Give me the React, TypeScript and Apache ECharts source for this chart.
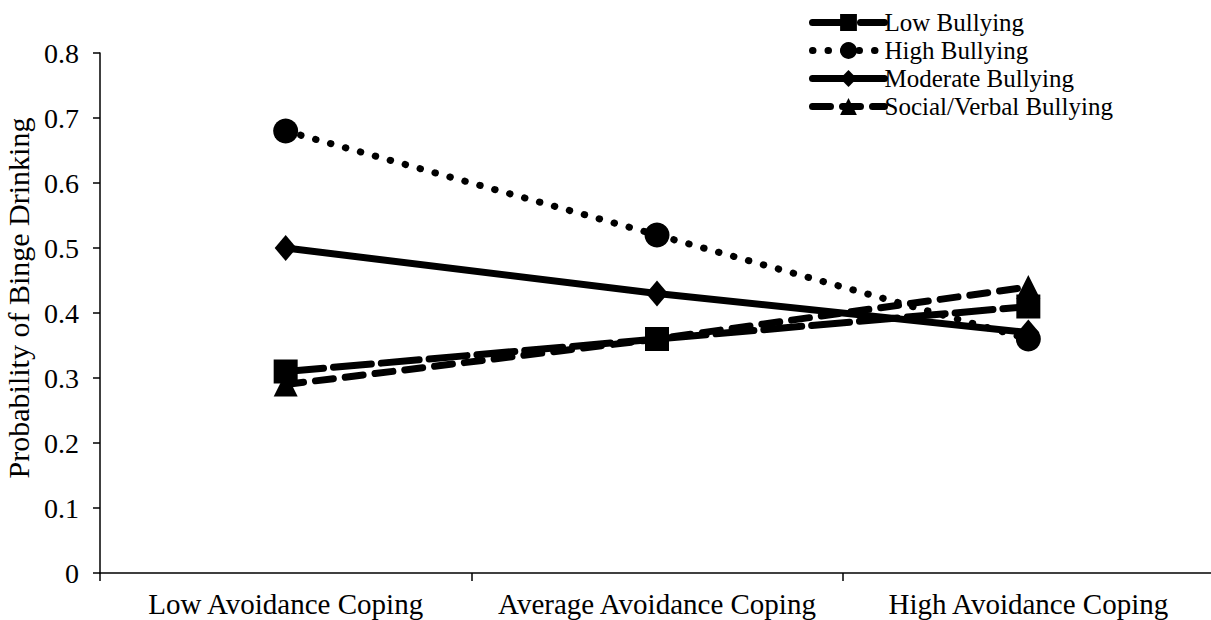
import React, { useEffect, useRef } from "react";
import * as echarts from "echarts";

const categories = ["Low Avoidance Coping", "Average Avoidance Coping", "High Avoidance Coping"];
const lowBullying = [0.31, 0.36, 0.41];
const highBullying = [0.68, 0.52, 0.36];
const moderateBullying = [0.5, 0.43, 0.37];
const socialVerbalBullying = [0.29, 0.36, 0.44];
const seriesNames = ["Low Bullying", "High Bullying", "Moderate Bullying", "Social/Verbal Bullying"];

const FONT = "Liberation Serif";

const lineTypes: any[] = [[38, 10], [0.5, 15], "solid", [18, 12]];
const symbols = ["rect", "circle", "diamond", "triangle"];

export default function App() {
  const ref = useRef<HTMLDivElement>(null);
  useEffect(() => {
    if (!ref.current) return;
    const chart = echarts.init(ref.current, null, { renderer: "svg" });
    const mk = (i: number, data: number[], size: any) => ({
      name: seriesNames[i],
      type: "line",
      data,
      symbol: symbols[i],
      symbolSize: size,
      showSymbol: true,
      itemStyle: { color: "#000" },
      lineStyle: { color: "#000", width: 7, type: lineTypes[i], cap: "round" },
      z: 2,
    });
    chart.setOption({
      animation: false,
      backgroundColor: "#fff",
      textStyle: { fontFamily: FONT, color: "#000" },
      grid: {
        left: 100,
        top: 53,
        width: 1114,
        height: 520,
        containLabel: false,
        outerBoundsMode: "none",
      },
      legend: {
        orient: "vertical",
        left: 804,
        top: 5,
        itemWidth: 72,
        itemHeight: 21,
        itemGap: 3,
        data: seriesNames,
        lineStyle: { width: 7, cap: "round" },
        textStyle: { fontFamily: FONT, fontSize: 25, color: "#000", padding: [0, 0, 0, -5] },
      },
      xAxis: {
        type: "category",
        data: categories,
        boundaryGap: true,
        axisLine: { lineStyle: { color: "#000", width: 1.5 } },
        axisTick: { show: true, length: 8, lineStyle: { color: "#000", width: 1.5 } },
        axisLabel: { fontFamily: FONT, fontSize: 29, color: "#000", margin: 16, interval: 0 },
        splitLine: { show: false },
      },
      yAxis: {
        type: "value",
        min: 0,
        max: 0.8,
        interval: 0.1,
        name: "Probability of Binge Drinking",
        nameLocation: "middle",
        nameGap: 64,
        nameTextStyle: { fontFamily: FONT, fontSize: 30, color: "#000", padding: [0, 0, 0, 30] },
        axisLine: { show: true, lineStyle: { color: "#000", width: 1.5 } },
        axisTick: { show: true, length: 7, lineStyle: { color: "#000", width: 1.5 } },
        axisLabel: {
          fontFamily: FONT,
          fontSize: 28,
          color: "#000",
          margin: 21,
          formatter: (v: number) => (v === 0 ? "0" : v.toFixed(1)),
        },
        splitLine: { show: false },
      },
      series: [
        mk(0, lowBullying, 24),
        mk(1, highBullying, 25),
        mk(2, moderateBullying, [22, 26]),
        mk(3, socialVerbalBullying, 24),
      ],
    });
    return () => chart.dispose();
  }, []);
  return (
    <div
      ref={ref}
      style={{ position: "absolute", left: 0, top: 0, width: 1211, height: 620, background: "#fff" }}
    />
  );
}
